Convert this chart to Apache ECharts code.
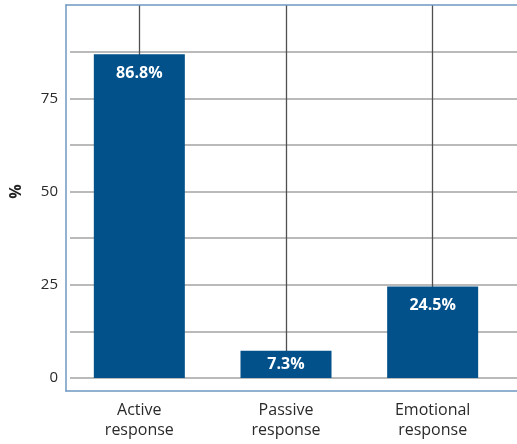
<!DOCTYPE html>
<html>
<head>
<meta charset="utf-8">
<script src="https://cdn.jsdelivr.net/npm/echarts@6/dist/echarts.min.js"></script>
<style>
  html, body { margin: 0; padding: 0; background: #fff; }
  #chart { width: 517px; height: 444px; }
</style>
</head>
<body>
<div id="chart"></div>
<script>
// Response types and their shares (%)
const categories = ['Active\nresponse', 'Passive\nresponse', 'Emotional\nresponse'];
const shares = [86.8, 7.3, 24.5];
const yTicks = [0, 25, 50, 75];

const FONT = '"Open Sans", "Noto Sans", sans-serif';
const BAR = '#02518a';
const FRAME = '#6f98c2';
const GRID_H = '#a3a3a3';
const GRID_V = '#4f4f4f';

const chart = echarts.init(document.getElementById('chart'), null, { renderer: 'canvas' });

// short bars carry their label centred, tall bars near the top
const barData = shares.map(v => ({
  value: v,
  label: v < 12 ? { position: 'inside' } : { position: 'insideTop', distance: 11 }
}));

const frameLine = { show: true, onZero: false, lineStyle: { color: FRAME, width: 1.5 } };
const frameAxis = (extra) => Object.assign({
  gridIndex: 0, type: 'value', min: 0, max: 1,
  axisLine: frameLine, axisTick: { show: false }, axisLabel: { show: false }, splitLine: { show: false }, z: 5
}, extra);

chart.setOption({
  animation: false,
  grid: [
    // outer frame: left, top and bottom edges
    { left: 66, right: 0, top: 5, bottom: 53 },
    // horizontal gridlines and value labels
    { left: 66, right: 0, top: 5, bottom: 66 },
    // bars
    { left: 66, right: 11, top: 5, bottom: 66 }
  ],
  xAxis: [
    frameAxis({ position: 'top' }),
    frameAxis({ position: 'bottom' }),
    { gridIndex: 1, type: 'value', show: false },
    {
      gridIndex: 2, type: 'category', data: categories,
      offset: 13,
      axisLine: { show: false },
      axisTick: { show: true, alignWithLabel: true, inside: true, length: 13, lineStyle: { color: GRID_V, width: 1.3 } },
      axisLabel: { color: '#2a2a2a', fontFamily: FONT, fontSize: 16, lineHeight: 20, margin: 9 },
      splitLine: { show: true, alignWithLabel: true, lineStyle: { color: GRID_V, width: 1.3 } }
    }
  ],
  yAxis: [
    frameAxis({ position: 'left' }),
    {
      gridIndex: 1, type: 'value', min: 0, max: 100, interval: 12.5,
      name: '%', nameLocation: 'middle', nameGap: 46, nameRotate: 90,
      nameTextStyle: { fontFamily: FONT, fontSize: 16, fontWeight: 'bold', color: '#222' },
      axisLine: { show: false },
      axisTick: { show: false },
      axisLabel: {
        fontFamily: FONT, fontSize: 15, color: '#2a2a2a', margin: 12, showMaxLabel: false,
        formatter: v => (yTicks.indexOf(v) >= 0 ? String(v) : '')
      },
      splitLine: { show: true, showMaxLine: false, lineStyle: { color: GRID_H, width: 1.5 } }
    },
    { gridIndex: 2, type: 'value', min: 0, max: 100, show: false, splitLine: { show: false } }
  ],
  series: [{
    type: 'bar',
    xAxisIndex: 3,
    yAxisIndex: 2,
    data: barData,
    barWidth: 91,
    itemStyle: { color: BAR },
    z: 3,
    label: {
      show: true,
      color: '#fff',
      fontFamily: FONT,
      fontSize: 16,
      fontWeight: 'bold',
      formatter: p => p.value.toFixed(1) + '%'
    }
  }]
});
</script>
</body>
</html>
